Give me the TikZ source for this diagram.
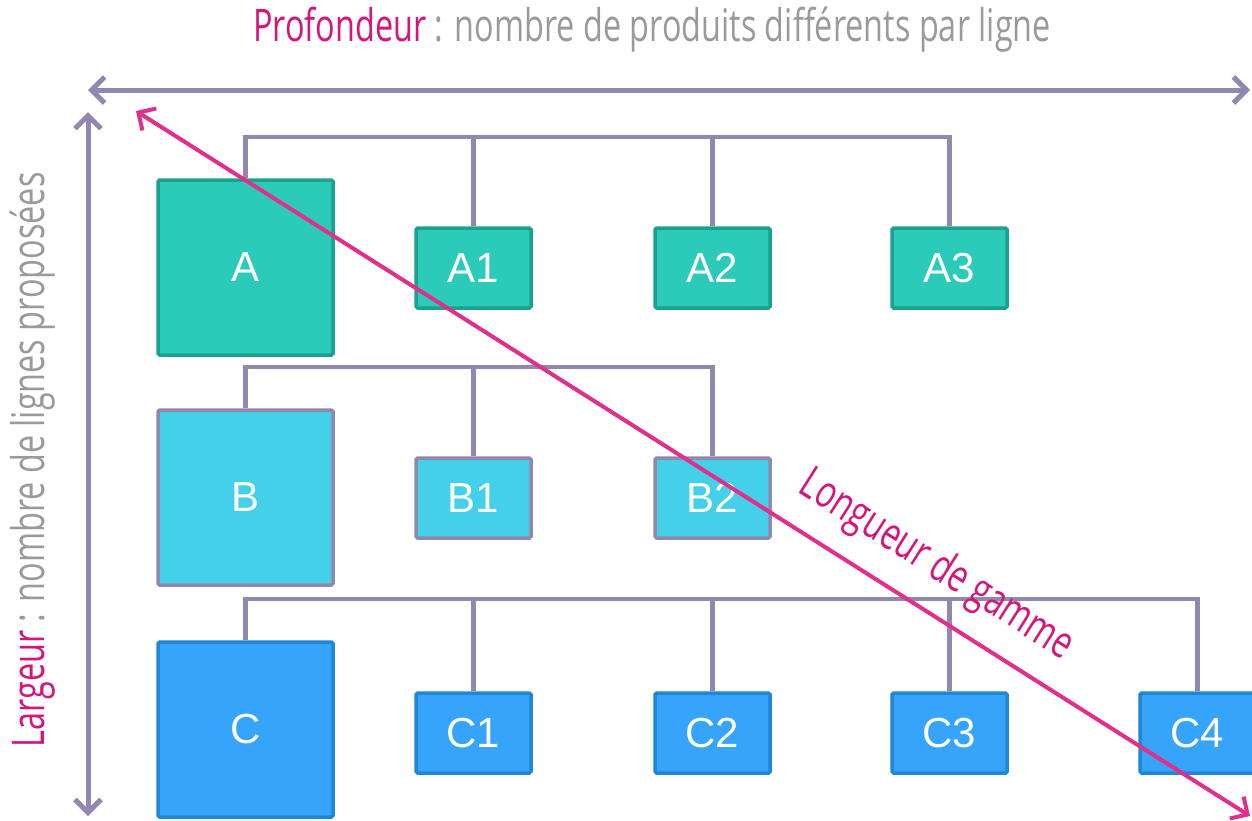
\documentclass[tikz,border=0pt]{standalone}
\usepackage{fontspec}
\usepackage{tikz}
\usetikzlibrary{positioning,arrows.meta,calc}
\newfontfamily\condfont[FakeStretch=0.72]{Open Sans}
\newfontfamily\boxfont{Liberation Sans}
\definecolor{axisgrey}{HTML}{9189AD}
\definecolor{rangepink}{HTML}{E0308C}
\definecolor{labelpink}{HTML}{D6157A}
\definecolor{labelgrey}{HTML}{9A9A9A}
\definecolor{tealfill}{HTML}{2CCBB9}
\definecolor{tealline}{HTML}{1BA190}
\definecolor{cyanfill}{HTML}{43D0E8}
\definecolor{bluefill}{HTML}{35A4FA}
\definecolor{blueline}{HTML}{1F87D6}

\begin{document}
\begin{tikzpicture}[x=1pt,y=-1pt,
    linebox/.style={draw, line width=3.5pt, rounded corners=1.5pt, text=white,
        font=\boxfont\fontsize{42}{42}\selectfont, inner sep=0pt},
    bigbox/.style={linebox, minimum width=175pt, minimum height=175pt},
    smallbox/.style={linebox, minimum width=115pt, minimum height=80pt},
    rowA/.style={fill=tealfill, draw=tealline},
    rowB/.style={fill=cyanfill, draw=axisgrey},
    rowC/.style={fill=bluefill, draw=blueline},
    link/.style={draw=axisgrey, line width=4.5pt},
    tips/.style={{Straight Barb[length=13pt,width=26pt]}-{Straight Barb[length=13pt,width=26pt]}},
    axis/.style={draw=axisgrey, line width=5pt, tips},
    title/.style={font=\condfont\fontsize{45}{45}\selectfont, text=labelgrey, inner sep=0pt}]
    \useasboundingbox (0,0) rectangle (1252,820);

    % axes
    \coordinate (xa) at (88,90);
    \coordinate (xb) at (1250,90);
    \coordinate (ya) at (88,112);
    \coordinate (yb) at (88,816);
    \draw[axis] (xa) -- (xb);
    \draw[axis] (ya) -- (yb);
    \node[title] (depth) at (652,30) {\textcolor{labelpink}{Profondeur} : nombre de produits différents par ligne};
    \node[title, rotate=90] (width) at (33,460) {\textcolor{labelpink}{Largeur} : nombre de lignes proposées};

    % line A
    \node[bigbox, rowA] (A) at (245.5,267.5) {A};
    \node[smallbox, rowA] (A1) at (473.5,268) {A1};
    \node[smallbox, rowA] (A2) at (712.5,268) {A2};
    \node[smallbox, rowA] (A3) at (949.5,268) {A3};
    \coordinate (ta) at (245,137);
    \draw[link] (A.north) -- (A.north |- ta) -- (A3.north |- ta) -- (A3.north);
    \foreach \n in {A1,A2} \draw[link] (\n.north) -- (\n.north |- ta);

    % line B
    \node[bigbox, rowB] (B) at (245.5,497.5) {B};
    \node[smallbox, rowB] (B1) at (473.5,498) {B1};
    \node[smallbox, rowB] (B2) at (712.5,498) {B2};
    \coordinate (tb) at (245,367);
    \draw[link] (B.north) -- (B.north |- tb) -- (B2.north |- tb) -- (B2.north);
    \draw[link] (B1.north) -- (B1.north |- tb);

    % line C
    \node[bigbox, rowC] (C) at (245.5,729.5) {C};
    \node[smallbox, rowC] (C1) at (473.5,733) {C1};
    \node[smallbox, rowC] (C2) at (712.5,733) {C2};
    \node[smallbox, rowC] (C3) at (949.5,733) {C3};
    \node[smallbox, rowC] (C4) at (1197.5,733) {C4};
    \coordinate (tc) at (245,599);
    \draw[link] (C.north) -- (C.north |- tc) -- (C4.north |- tc) -- (C4.north);
    \foreach \n in {C1,C2,C3} \draw[link] (\n.north) -- (\n.north |- tc);

    % range length
    \coordinate (ra) at (136,111);
    \coordinate (rb) at (1250,816);
    \draw[draw=rangepink, line width=4pt, tips] (ra) -- (rb);
    \node[title, text=labelpink, rotate=-32.3] (range) at (936,566) {Longueur de gamme};
\end{tikzpicture}
\end{document}
